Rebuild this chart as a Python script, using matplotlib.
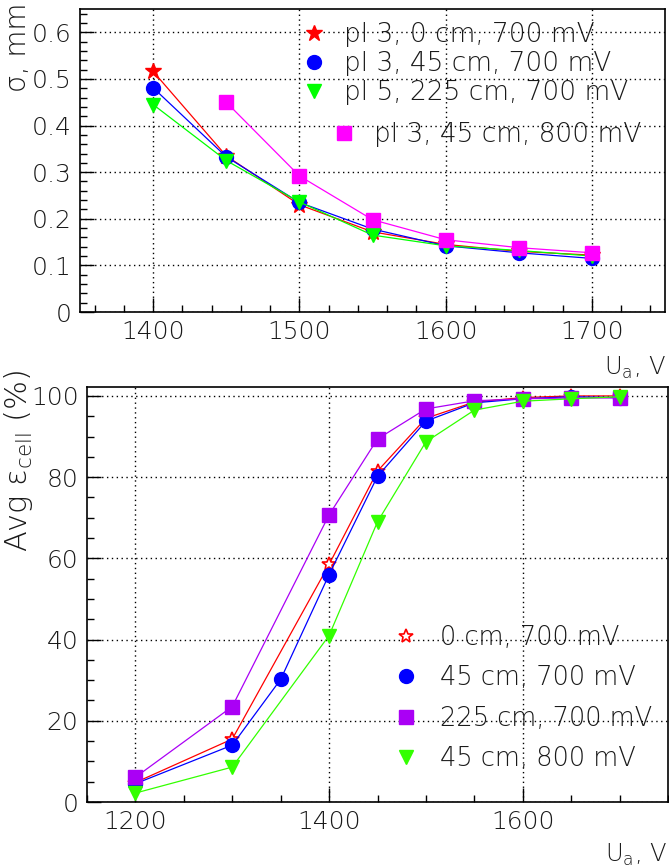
import matplotlib
matplotlib.use("Agg")
import matplotlib.pyplot as plt
from matplotlib.lines import Line2D
from matplotlib.ticker import MultipleLocator

# top panel: sigma (mm) vs U_a (V)
u_top = [1400, 1450, 1500, 1550, 1600, 1650, 1700]
u_top_800 = [1450, 1500, 1550, 1600, 1650, 1700]
sig_pl3_0 = [0.516, 0.335, 0.230, 0.172, 0.145, 0.130, 0.122]
sig_pl3_45 = [0.481, 0.333, 0.235, 0.178, 0.142, 0.127, 0.115]
sig_pl5_225 = [0.445, 0.325, 0.236, 0.165, 0.142, 0.132, 0.120]
sig_pl3_45_800 = [0.450, 0.292, 0.198, 0.155, 0.138, 0.127]
top_labels = ["pl 3, 0 cm, 700 mV", "pl 3, 45 cm, 700 mV",
              "pl 5, 225 cm, 700 mV", "pl 3, 45 cm, 800 mV"]

# bottom panel: average cell efficiency (%) vs U_a (V)
u_bot = [1200, 1300, 1400, 1450, 1500, 1550, 1600, 1650, 1700]
u_bot_45 = [1200, 1300, 1350, 1400, 1450, 1500, 1550, 1600, 1650, 1700]
eff_0 = [4.8, 15.5, 58.5, 81.5, 94.5, 98.5, 99.6, 100.0, 100.0]
eff_45 = [4.5, 14.0, 30.2, 56.0, 80.2, 93.8, 98.3, 99.3, 99.8, 99.6]
eff_225 = [6.1, 23.5, 70.7, 89.4, 96.8, 98.8, 99.3, 99.5, 99.5]
eff_45_800 = [2.2, 8.6, 41.0, 69.0, 88.7, 96.5, 98.7, 99.3, 99.8]
bot_labels = ["0 cm, 700 mV", "45 cm, 700 mV", "225 cm, 700 mV", "45 cm, 800 mV"]

W, H = 669, 868
plt.rcParams["font.family"] = ["DejaVu Sans"]
plt.rcParams["font.weight"] = "light"
plt.rcParams["mathtext.fontset"] = "dejavusans"
TXT = "#1a1a1a"


def fx(px):
    return px / W


def fy(py):
    return 1 - py / H


def style_axis(ax, xmaj, xmin, ymaj, ymin):
    ax.xaxis.set_major_locator(MultipleLocator(xmaj))
    ax.xaxis.set_minor_locator(MultipleLocator(xmin))
    ax.yaxis.set_major_locator(MultipleLocator(ymaj))
    ax.yaxis.set_minor_locator(MultipleLocator(ymin))
    ax.tick_params(which="both", direction="in", top=False, right=False,
                   labelsize=18, width=1, pad=6, colors="black", labelcolor=TXT)
    ax.tick_params(which="major", length=10)
    ax.tick_params(which="minor", length=5)
    ax.grid(True, which="major", color="black", linestyle=(0, (1, 2.5)), linewidth=1)
    for s in ax.spines.values():
        s.set_linewidth(1.2)


def marker_handle(ax_line):
    # legend shows only the marker, no line segment
    return Line2D([], [], linestyle="none", marker=ax_line.get_marker(),
                  markersize=ax_line.get_markersize(), color=ax_line.get_color(),
                  markerfacecolor=ax_line.get_markerfacecolor(),
                  markeredgecolor=ax_line.get_markeredgecolor(),
                  markeredgewidth=ax_line.get_markeredgewidth())


fig = plt.figure(figsize=(W / 100, H / 100), dpi=100)

# ---- top panel
ax1 = fig.add_axes([fx(80), fy(312), fx(665) - fx(80), fy(9) - fy(312)])
ms = 10
l1, = ax1.plot(u_top, sig_pl3_0, color="#ff0000", marker="*", ms=ms + 2, lw=0.9)
l2, = ax1.plot(u_top, sig_pl3_45, color="#0000ff", marker="o", ms=ms, lw=0.9)
l3, = ax1.plot(u_top, sig_pl5_225, color="#00ff00", marker="v", ms=ms, lw=0.9)
l4, = ax1.plot(u_top_800, sig_pl3_45_800, color="#ff00ff", marker="s", ms=ms, lw=0.9)
ax1.set_xlim(1350, 1750)
ax1.set_ylim(0, 0.65)
style_axis(ax1, 100, 20, 0.1, 0.02)
ax1.set_yticklabels(["0" if abs(t) < 1e-9 else f"{t:.1f}" for t in ax1.get_yticks()])

leg_kw = dict(bbox_transform=fig.transFigure, frameon=False, handlelength=0.8,
              borderpad=0, borderaxespad=0, loc="upper left", labelcolor=TXT)
leg1 = ax1.legend([marker_handle(l) for l in (l1, l2, l3)], top_labels[:3],
                  bbox_to_anchor=(fx(303), fy(22)), fontsize=19,
                  handletextpad=0.75, labelspacing=0.15, **leg_kw)
ax1.add_artist(leg1)
ax1.legend([marker_handle(l4)], top_labels[3:], bbox_to_anchor=(fx(333), fy(122)),
           fontsize=19, handletextpad=0.75, **leg_kw)

fig.text(fx(4), fy(47), "σ, mm", rotation=90, fontsize=20, ha="left", va="center",
         color=TXT)
fig.text(fx(666), fy(375), r"U$_{\mathregular{a}}$, V", fontsize=17.5, ha="right",
         va="baseline", color=TXT)

# ---- bottom panel
ax2 = fig.add_axes([fx(87), fy(802), fx(668) - fx(87), fy(387) - fy(802)])
b1, = ax2.plot(u_bot, eff_0, color="#ff0000", marker="*", ms=ms, lw=0.9,
               mfc="white", mec="#ff0000", mew=1.2)
b2, = ax2.plot(u_bot_45, eff_45, color="#0000ff", marker="o", ms=ms, lw=0.9)
b3, = ax2.plot(u_bot, eff_225, color="#aa00f5", marker="s", ms=ms, lw=0.9)
b4, = ax2.plot(u_bot, eff_45_800, color="#33ff00", marker="v", ms=ms, lw=0.9)
ax2.set_xlim(1150, 1750)
ax2.set_ylim(0, 102.2)
style_axis(ax2, 200, 50, 20, 5)

ax2.legend([marker_handle(l) for l in (b1, b2, b3, b4)], bot_labels,
           bbox_to_anchor=(fx(396), fy(625)), fontsize=18.5,
           handletextpad=0.9, labelspacing=0.6, **leg_kw)

fig.text(fx(2), fy(461), r"Avg ε$_{\mathregular{cell}}$ (%)", rotation=90,
         fontsize=22, ha="left", va="center", color=TXT)
fig.text(fx(667), fy(862), r"U$_{\mathregular{a}}$, V", fontsize=17.5, ha="right",
         va="baseline", color=TXT)

fig.savefig("out.png", dpi=100)
